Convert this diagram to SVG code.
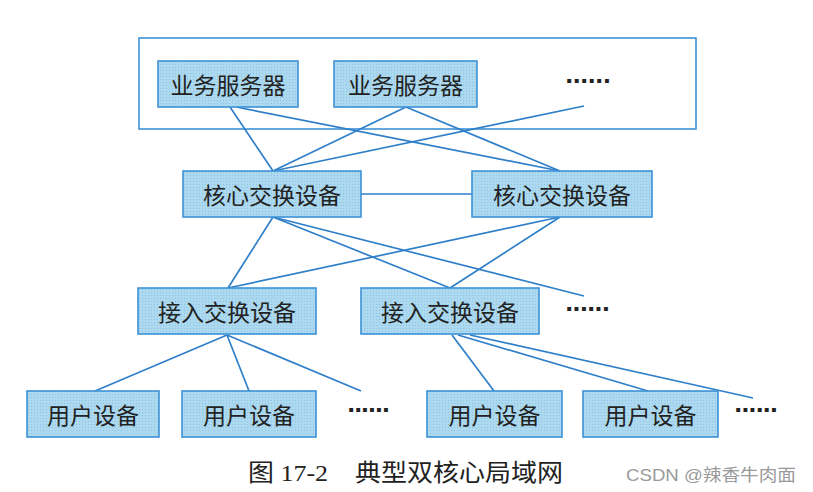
<svg xmlns="http://www.w3.org/2000/svg" width="813" height="492" viewBox="0 0 813 492">
<defs>
<pattern id="dots" width="3" height="3" patternUnits="userSpaceOnUse">
<rect width="3" height="3" fill="#acd9ef"/>
<rect x="1" y="1" width="1" height="1" fill="#8cc4e2"/>
</pattern>
</defs>
<style>
.box{fill:url(#dots);stroke:#3d92d6;stroke-width:1.6}
.lbl{font-family:"Noto Sans CJK SC","Noto Sans CJK JP",sans-serif;font-size:23px;fill:#222;text-anchor:middle;dominant-baseline:central}
.dots{font-family:"DejaVu Sans",sans-serif;font-size:22px;font-weight:bold;fill:#222}
.ln{stroke:#2f7fc9;stroke-width:1.7;fill:none}
.cap{font-family:"Liberation Serif","Noto Sans CJK SC",serif;font-size:24px;fill:#222}
.csdn{font-family:"Liberation Sans","Noto Sans CJK SC",sans-serif;font-size:17px;fill:#9a9a9a}
</style>
<rect width="813" height="492" fill="#ffffff"/>
<rect x="139" y="38" width="557" height="91" fill="none" stroke="#3d92d6" stroke-width="1.6"/>
<g id="connectors">
<line class="ln" x1="230" y1="107" x2="273" y2="171"/>
<line class="ln" x1="236" y1="107" x2="560" y2="171"/>
<line class="ln" x1="406" y1="107" x2="273" y2="171"/>
<line class="ln" x1="406" y1="107" x2="560" y2="171"/>
<line class="ln" x1="584" y1="106" x2="273" y2="171"/>
<line class="ln" x1="361" y1="194" x2="472" y2="194"/>
<line class="ln" x1="273" y1="217" x2="228" y2="288"/>
<line class="ln" x1="273" y1="217" x2="450" y2="288"/>
<line class="ln" x1="273" y1="217" x2="584" y2="296"/>
<line class="ln" x1="560" y1="217" x2="228" y2="288"/>
<line class="ln" x1="560" y1="217" x2="450" y2="288"/>
<line class="ln" x1="227" y1="335" x2="95" y2="391"/>
<line class="ln" x1="227" y1="335" x2="249" y2="391"/>
<line class="ln" x1="227" y1="335" x2="361" y2="391"/>
<line class="ln" x1="452" y1="335" x2="494" y2="391"/>
<line class="ln" x1="458" y1="335" x2="648" y2="391"/>
<line class="ln" x1="470" y1="335" x2="753" y2="398"/>
</g>
<g id="server1"><rect class="box" x="158" y="61" width="140" height="46"/><text class="lbl" x="228" y="84">业务服务器</text></g>
<g id="server2"><rect class="box" x="334" y="61" width="143" height="46"/><text class="lbl" x="405.5" y="84">业务服务器</text></g>
<g id="server-more"><text class="dots" x="565" y="88" textLength="46" lengthAdjust="spacing">······</text></g>
<g id="core1"><rect class="box" x="183" y="171" width="178" height="46"/><text class="lbl" x="272" y="194">核心交换设备</text></g>
<g id="core2"><rect class="box" x="472" y="171" width="180" height="46"/><text class="lbl" x="562" y="194">核心交换设备</text></g>
<g id="access1"><rect class="box" x="138" y="288" width="178" height="46"/><text class="lbl" x="227" y="311">接入交换设备</text></g>
<g id="access2"><rect class="box" x="361" y="288" width="178" height="46"/><text class="lbl" x="450" y="311">接入交换设备</text></g>
<g id="access-more"><text class="dots" x="565" y="316" textLength="45" lengthAdjust="spacing">······</text></g>
<g id="user1"><rect class="box" x="27" y="391" width="132" height="46"/><text class="lbl" x="93" y="414">用户设备</text></g>
<g id="user2"><rect class="box" x="182" y="391" width="134" height="46"/><text class="lbl" x="249" y="414">用户设备</text></g>
<g id="user-more1"><text class="dots" x="347" y="417" textLength="43" lengthAdjust="spacing">······</text></g>
<g id="user3"><rect class="box" x="427" y="391" width="135" height="46"/><text class="lbl" x="494.5" y="414">用户设备</text></g>
<g id="user4"><rect class="box" x="583" y="391" width="135" height="46"/><text class="lbl" x="650.5" y="414">用户设备</text></g>
<g id="user-more2"><text class="dots" x="734" y="417" textLength="44" lengthAdjust="spacing">······</text></g>
<text class="cap" x="248" y="481" textLength="80" lengthAdjust="spacingAndGlyphs">图 17-2</text>
<text class="cap" x="355" y="481" textLength="208" lengthAdjust="spacingAndGlyphs">典型双核心局域网</text>
<text class="csdn" x="626" y="481" textLength="170" lengthAdjust="spacingAndGlyphs">CSDN @辣香牛肉面</text>
</svg>
